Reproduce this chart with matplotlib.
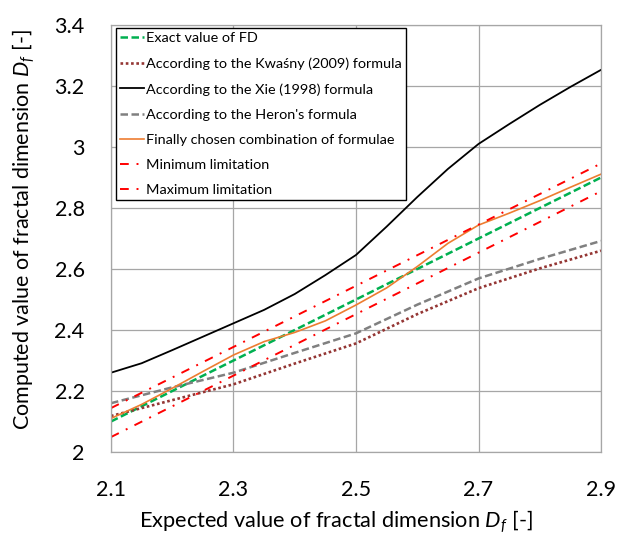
import matplotlib
matplotlib.use("Agg")
import matplotlib.pyplot as plt

plt.rcParams['font.family'] = ['Lato', 'DejaVu Sans']
plt.rcParams['mathtext.fontset'] = 'custom'
plt.rcParams['mathtext.rm'] = 'Lato'
plt.rcParams['mathtext.it'] = 'Lato:italic'

# expected fractal dimension (x axis)
x_fine = [2.1, 2.15, 2.2, 2.25, 2.3, 2.35, 2.4, 2.45, 2.5, 2.55, 2.6, 2.65, 2.7, 2.75, 2.8, 2.85, 2.9]
x_coarse = [2.1, 2.2, 2.3, 2.4, 2.5, 2.6, 2.7, 2.8, 2.9]
x_limits = [2.1, 2.9]

exact_fd = [2.1, 2.2, 2.3, 2.4, 2.5, 2.6, 2.7, 2.8, 2.9]
kwasny = [2.118, 2.170, 2.222, 2.290, 2.356, 2.452, 2.537, 2.602, 2.660]
xie = [2.260, 2.291, 2.334, 2.378, 2.422, 2.466, 2.518, 2.580, 2.646,
       2.739, 2.836, 2.928, 3.010, 3.075, 3.138, 3.197, 3.253]
heron = [2.160, 2.212, 2.260, 2.325, 2.389, 2.483, 2.569, 2.633, 2.692]
combined = [2.110, 2.156, 2.209, 2.264, 2.318, 2.362, 2.392, 2.430, 2.482,
            2.538, 2.608, 2.684, 2.744, 2.783, 2.824, 2.868, 2.911]
min_limit = [2.049, 2.855]
max_limit = [2.144, 2.946]

fig = plt.figure(figsize=(6.18, 5.37), dpi=100)
ax = fig.add_axes([0.1796, 0.1583, 0.7929, 0.7951])

ax.plot(x_coarse, exact_fd, color='#00B050', lw=1.8, ls=(0, (3, 1.4)),
        label='Exact value of FD')
ax.plot(x_coarse, kwasny, color='#943634', lw=1.9, ls=(0, (1, 1)),
        label='According to the Kwaśny (2009) formula')
ax.plot(x_fine, xie, color='black', lw=1.3,
        label='According to the Xie (1998) formula')
ax.plot(x_coarse, heron, color='#808080', lw=1.8, ls=(0, (3, 1.4)),
        label="According to the Heron's formula")
ax.plot(x_fine, combined, color='#ED7D31', lw=1.2,
        label='Finally chosen combination of formulae')
ax.plot(x_limits, min_limit, color='#FF0000', lw=1.4, ls=(0, (4.5, 4, 1, 4)),
        label='Minimum limitation')
ax.plot(x_limits, max_limit, color='#FF0000', lw=1.4, ls=(0, (4.5, 4, 1, 4)),
        label='Maximum limitation')

ax.set_xlim(2.1, 2.9)
ax.set_ylim(2.0, 3.4)
ax.set_xticks([2.1, 2.3, 2.5, 2.7, 2.9])
ax.set_xticklabels(['2.1', '2.3', '2.5', '2.7', '2.9'])
ax.set_yticks([2.0, 2.2, 2.4, 2.6, 2.8, 3.0, 3.2, 3.4])
ax.set_yticklabels(['2', '2.2', '2.4', '2.6', '2.8', '3', '3.2', '3.4'])
ax.tick_params(length=0, labelsize=15.5)
ax.tick_params(axis='x', pad=20)
ax.tick_params(axis='y', pad=19)
ax.grid(True, color='#A6A6A6', lw=0.9)
ax.set_axisbelow(True)
for s in ax.spines.values():
    s.set_color('#A6A6A6')
    s.set_linewidth(0.9)

ax.set_xlabel('Expected value of fractal dimension $D_f$ [-]', fontsize=15.7, va='center')
ax.xaxis.set_label_coords(0.459, -0.162)
ax.set_ylabel('Computed value of fractal dimension $D_f$ [-]', fontsize=15.5, va='center')
ax.yaxis.set_label_coords(-0.178, 0.521)

leg = ax.legend(loc='upper left', bbox_to_anchor=(0.01, 0.993), borderaxespad=0,
                fontsize=10.4, handlelength=1.65, handletextpad=0.1,
                labelspacing=0.9, fancybox=False, framealpha=1,
                borderpad=0.3)
leg.get_frame().set_edgecolor('black')
leg.get_frame().set_linewidth(1.0)

fig.savefig('out.png', dpi=100)
